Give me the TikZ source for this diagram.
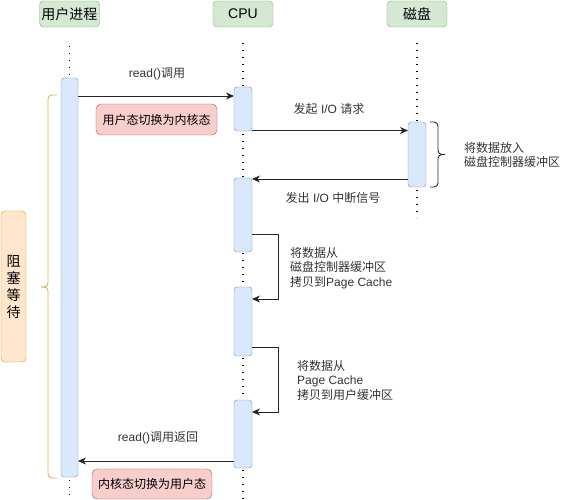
\documentclass[tikz,border=0pt]{standalone}
\usepackage{fontspec}
\setmainfont{Liberation Sans}
\newfontfamily\cjk{Noto Sans CJK SC}
\newcommand\zh[1]{{\cjk #1}}
\usetikzlibrary{arrows.meta}
\definecolor{hdrfill}{HTML}{D5E8D4}
\definecolor{hdrdraw}{HTML}{82B366}
\definecolor{actfill}{HTML}{DAE8FC}
\definecolor{actdraw}{HTML}{6C8EBF}
\definecolor{pinkfill}{HTML}{F8CECC}
\definecolor{pinkdraw}{HTML}{B85450}
\definecolor{orgfill}{HTML}{FFE6CC}
\definecolor{orgdraw}{HTML}{D79B00}
\definecolor{bracey}{HTML}{D6B656}
\definecolor{lbl}{HTML}{333333}
\tikzset{
  hdr/.style={draw=hdrdraw, fill=hdrfill, rounded corners=4pt, minimum width=60pt, minimum height=26pt, inner sep=0pt, font=\fontsize{14}{16}\selectfont\cjk},
  act/.style={draw=actdraw, fill=actfill, rounded corners=3pt, inner sep=0pt, outer sep=0pt, anchor=north west},
  pinkbox/.style={draw=pinkdraw, fill=pinkfill, rounded corners=5pt, inner sep=0pt, font=\fontsize{12}{14}\selectfont\cjk},
  lbltext/.style={text=lbl, inner sep=0pt, font=\fontsize{12}{14.5}\selectfont},
  lifeline/.style={line width=1.3pt, dash pattern=on 1.3pt off 5.7pt, black},
  arr/.style={draw=black!85, line width=0.9pt, -{Stealth[length=8pt,width=7pt,inset=2.5pt]}},
}
\begin{document}
\begin{tikzpicture}[x=1pt,y=-1pt]
\useasboundingbox (0,0) rectangle (563,500);
% headers
\node[hdr] (hu) at (69.5,14) {用户进程};
\node[hdr] (hc) at (243,14) {\fontspec{Liberation Sans}CPU};
\node[hdr] (hd) at (417,14) {磁盘};
% lifelines
\draw[lifeline] (69.5,46) -- (69.5,500);
\draw[lifeline] (243,43) -- (243,500);
\draw[lifeline] (417,43) -- (417,218);
% activations
\node[act, minimum width=17pt, minimum height=399pt] (u) at (61,78) {};
\node[act, minimum width=18pt, minimum height=44pt] (c1) at (234,87) {};
\node[act, minimum width=18pt, minimum height=74pt] (c2) at (234,178) {};
\node[act, minimum width=18pt, minimum height=69pt] (c3) at (234,287) {};
\node[act, minimum width=18pt, minimum height=68pt] (c4) at (234,400) {};
\node[act, minimum width=18pt, minimum height=65pt] (d1) at (408,122) {};
% pink notes
\node[pinkbox, minimum width=121pt, minimum height=31pt] (p1) at (156.5,119.5) {用户态切换为内核态};
\node[pinkbox, minimum width=120pt, minimum height=30pt] (p2) at (152,484) {内核态切换为用户态};
% blocking box
\node[draw=orgdraw, fill=orgfill, rounded corners=4pt, minimum width=25pt, minimum height=151pt, inner sep=0pt, align=center, font=\fontsize{14}{17}\selectfont\cjk] (blk) at (13.5,286.5) {阻\\塞\\等\\待};
% left brace
\draw[bracey, line width=0.9pt, rounded corners=4pt] (57,95) -- (48,95) -- (48,287) -- (41,287);
\draw[bracey, line width=0.9pt, rounded corners=4pt] (41,287) -- (48,287) -- (48,478) -- (57,478);
% right brace
\draw[black!85, line width=0.9pt, rounded corners=4pt] (430,122) -- (438,122) -- (438,154.5) -- (445,154.5);
\draw[black!85, line width=0.9pt, rounded corners=4pt] (445,154.5) -- (438,154.5) -- (438,187) -- (430,187);
% messages
\draw[arr] (u.east |- 0,96) -- (c1.west |- 0,96);
\node[lbltext] (t1) at (157,74) {read()\zh{调用}};
\draw[arr] (c1.east |- 0,130.5) -- (d1.west |- 0,130.5);
\node[lbltext] (t2) at (329,109) {\zh{发起} I/O \zh{请求}};
\draw[arr] (d1.west |- 0,179) -- (c2.east |- 0,179);
\node[lbltext] (t3) at (333,198) {\zh{发出} I/O \zh{中断信号}};
\node[lbltext, anchor=west, align=left] (t4) at (464,155) {\zh{将数据放入}\\\zh{磁盘控制器缓冲区}};
\draw[arr] (c2.east |- 0,234) -- (278,234) -- (278,299) -- (c3.east |- 0,299);
\node[lbltext, anchor=west, align=left] (t5) at (290,268) {\zh{将数据从}\\\zh{磁盘控制器缓冲区}\\\zh{拷贝到}Page Cache};
\draw[arr] (c3.east |- 0,347) -- (278,347) -- (278,412) -- (c4.east |- 0,412);
\node[lbltext, anchor=west, align=left] (t6) at (297,380) {\zh{将数据从}\\Page Cache\\\zh{拷贝到用户缓冲区}};
\draw[arr] (c4.west |- 0,461) -- (u.east |- 0,461);
\node[lbltext] (t7) at (158,438) {read()\zh{调用返回}};
\end{tikzpicture}
\end{document}
